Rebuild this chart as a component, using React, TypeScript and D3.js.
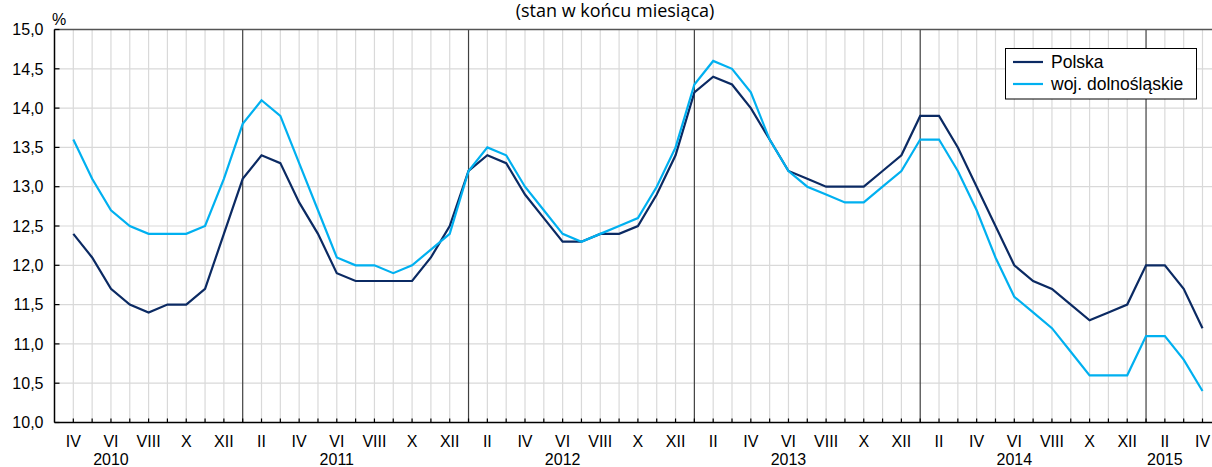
import React from "react";
import * as d3 from "d3";

const months: string[] = [
  "IV","V","VI","VII","VIII","IX","X","XI","XII",
  "I","II","III","IV","V","VI","VII","VIII","IX","X","XI","XII",
  "I","II","III","IV","V","VI","VII","VIII","IX","X","XI","XII",
  "I","II","III","IV","V","VI","VII","VIII","IX","X","XI","XII",
  "I","II","III","IV","V","VI","VII","VIII","IX","X","XI","XII",
  "I","II","III","IV",
];

const years: string[] = ["2010","2011","2012","2013","2014","2015"];
// category index under which each year label sits
const yearLabelIndex: number[] = [2, 14, 26, 38, 50, 58];
// category index of January of each new year (separator lines)
const yearStartIndex: number[] = [9, 21, 33, 45, 57];

const polska: number[] = [
  12.4,12.1,11.7,11.5,11.4,11.5,11.5,11.7,12.4,
  13.1,13.4,13.3,12.8,12.4,11.9,11.8,11.8,11.8,11.8,12.1,12.5,
  13.2,13.4,13.3,12.9,12.6,12.3,12.3,12.4,12.4,12.5,12.9,13.4,
  14.2,14.4,14.3,14.0,13.6,13.2,13.1,13.0,13.0,13.0,13.2,13.4,
  13.9,13.9,13.5,13.0,12.5,12.0,11.8,11.7,11.5,11.3,11.4,11.5,
  12.0,12.0,11.7,11.2,
];

const dolnoslaskie: number[] = [
  13.6,13.1,12.7,12.5,12.4,12.4,12.4,12.5,13.1,
  13.8,14.1,13.9,13.3,12.7,12.1,12.0,12.0,11.9,12.0,12.2,12.4,
  13.2,13.5,13.4,13.0,12.7,12.4,12.3,12.4,12.5,12.6,13.0,13.5,
  14.3,14.6,14.5,14.2,13.6,13.2,13.0,12.9,12.8,12.8,13.0,13.2,
  13.6,13.6,13.2,12.7,12.1,11.6,11.4,11.2,10.9,10.6,10.6,10.6,
  11.1,11.1,10.8,10.4,
];

const yTicks: number[] = [10, 10.5, 11, 11.5, 12, 12.5, 13, 13.5, 14, 14.5, 15];

const seriesNames: string[] = ["Polska", "woj. dolnośląskie"];
const seriesColors: string[] = ["#0b2a63", "#00b0f0"];

const W = 1212;
const H = 467;
const left = 54.5;
const rightEnd = 1212;
const top = 29.5;
const bottom = 422.5;
const font = "'Liberation Sans', Arial, sans-serif";

export default function App() {
  const x = d3.scaleLinear().domain([-1, months.length - 1]).range([left, 1202.5]);
  const y = d3.scaleLinear().domain([10, 15]).range([bottom, top]);
  const line = d3
    .line<number>()
    .x((_, i) => x(i))
    .y((d) => y(d));
  const fmt = (v: number) => v.toFixed(1).replace(".", ",");
  const idx = d3.range(months.length);

  return (
    <svg
      width={W}
      height={H}
      style={{ position: "absolute", left: 0, top: 0, background: "#fff" }}
      fontFamily={font}
    >
      <text
        x={615}
        y={17}
        textAnchor="middle"
        fontFamily="'Open Sans', sans-serif"
        fontSize={18}
        fill="#000"
      >
        (stan w końcu miesiąca)
      </text>

      {/* horizontal grid */}
      {yTicks.map((t) => (
        <line key={"h" + t} x1={left} x2={rightEnd} y1={y(t)} y2={y(t)} stroke="#d9d9d9" strokeWidth={1.2} />
      ))}
      {/* vertical grid */}
      {idx
        .filter((i) => !yearStartIndex.includes(i))
        .map((i) => (
          <line key={"v" + i} x1={x(i)} x2={x(i)} y1={top} y2={bottom} stroke="#d9d9d9" strokeWidth={1.2} />
        ))}
      {/* year separators */}
      {yearStartIndex.map((i) => (
        <line key={"ys" + i} x1={x(i)} x2={x(i)} y1={top} y2={bottom} stroke="#404040" strokeWidth={1.2} />
      ))}

      {/* top border */}
      <line x1={left} x2={rightEnd} y1={top} y2={top} stroke="#555" strokeWidth={1.5} />
      {/* axes */}
      <line x1={left} x2={rightEnd} y1={bottom} y2={bottom} stroke="#000" strokeWidth={1.5} />
      <line x1={left} x2={left} y1={top} y2={bottom} stroke="#000" strokeWidth={1.5} />

      {/* x ticks */}
      {idx.map((i) => (
        <line key={"xt" + i} x1={x(i)} x2={x(i)} y1={bottom} y2={bottom - 4} stroke="#000" strokeWidth={1.2} />
      ))}
      {/* y ticks */}
      {yTicks.map((t) => (
        <line key={"yt" + t} x1={left} x2={left + 5} y1={y(t)} y2={y(t)} stroke="#000" strokeWidth={1.2} />
      ))}

      {/* y labels */}
      {yTicks.map((t) => (
        <text key={"yl" + t} x={43.5} y={y(t)} dy="0.36em" textAnchor="end" fontSize={16} fill="#000">
          {fmt(t)}
        </text>
      ))}
      <text x={52} y={25} fontSize={16} fill="#000">%</text>

      {/* x labels */}
      {idx
        .filter((i) => ["II", "IV", "VI", "VIII", "X", "XII"].includes(months[i]))
        .map((i) => (
          <text key={"xl" + i} x={x(i)} y={446.5} textAnchor="middle" fontSize={16} fill="#000">
            {months[i]}
          </text>
        ))}
      {years.map((yr, k) => (
        <text key={"yr" + yr} x={x(yearLabelIndex[k])} y={465} textAnchor="middle" fontSize={16} fill="#000">
          {yr}
        </text>
      ))}

      {/* series */}
      <path d={line(polska) || ""} fill="none" stroke={seriesColors[0]} strokeWidth={2.2} strokeLinejoin="miter" />
      <path d={line(dolnoslaskie) || ""} fill="none" stroke={seriesColors[1]} strokeWidth={2.2} strokeLinejoin="miter" />

      {/* legend */}
      <rect x={1005.5} y={48.5} width={191} height={50.5} fill="#fff" stroke="#000" strokeWidth={1} />
      {seriesNames.map((n, k) => (
        <g key={n}>
          <line x1={1013} x2={1043} y1={62 + k * 22} y2={62 + k * 22} stroke={seriesColors[k]} strokeWidth={2.2} />
          <text x={1051} y={62 + k * 22} dy="0.36em" fontSize={17.5} fill="#000">
            {n}
          </text>
        </g>
      ))}
    </svg>
  );
}
